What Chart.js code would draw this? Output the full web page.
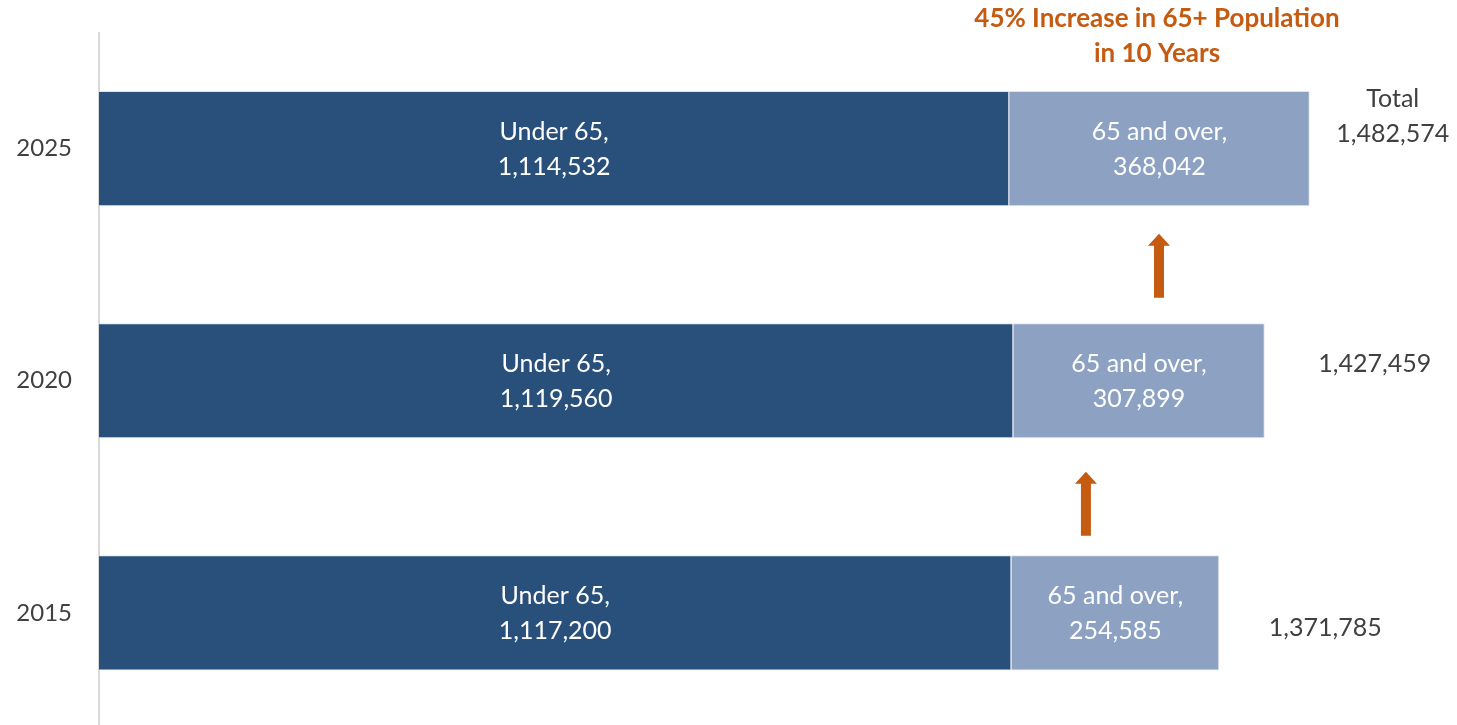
<!DOCTYPE html>
<html>
<head>
<meta charset="utf-8">
<script src="https://cdn.jsdelivr.net/npm/chart.js@4"></script>
<style>
  html, body { margin: 0; padding: 0; background: #fff; overflow: hidden; }
  #wrap { width: 1457px; height: 725px; overflow: hidden; }
</style>
</head>
<body>
<div id="wrap"><canvas id="popChart" width="1457" height="729"></canvas></div>
<script>
// Population by age group, top to bottom
const years = ['2025', '2020', '2015'];
const under65 = [1114532, 1119560, 1117200];
const over65 = [368042, 307899, 254585];
const totals = [1482574, 1427459, 1371785];

const FONT = 'Lato, "Open Sans", sans-serif';
const DARK = '#28507a';
const LIGHT = '#8da1c2';
const ORANGE = '#c55a11';
const GREY_TEXT = '#404040';

// labels inside bars, totals, title and arrows
const annotate = {
  id: 'annotate',
  afterDatasetsDraw(chart) {
    const ctx = chart.ctx;
    const xs = chart.scales.x;
    const ys = chart.scales.y;
    ctx.save();
    ctx.textAlign = 'center';
    ctx.textBaseline = 'middle';

    // segment labels
    const names = ['Under 65,', '65 and over,'];
    chart.data.datasets.forEach((ds, di) => {
      chart.getDatasetMeta(di).data.forEach((bar, i) => {
        const cx = (bar.base + bar.x) / 2;
        ctx.fillStyle = '#fff';
        ctx.font = '25px ' + FONT;
        ctx.fillText(names[di], cx, bar.y - 17);
        ctx.fillText(ds.data[i].toLocaleString('en-US'), cx, bar.y + 18);
      });
    });

    // totals to the right of each bar
    const dx = [83, 110, 106];
    const dy = [-15, -17, 15];
    ctx.fillStyle = GREY_TEXT;
    ctx.font = '25px ' + FONT;
    totals.forEach((t, i) => {
      const x = xs.getPixelForValue(t) + dx[i];
      const y = ys.getPixelForValue(i) + dy[i];
      if (i === 0) ctx.fillText('Total', x, y - 35);
      ctx.fillText(t.toLocaleString('en-US'), x, y);
    });

    // title
    ctx.fillStyle = ORANGE;
    ctx.font = 'bold 26px ' + FONT;
    ctx.fillText('45% Increase in 65+ Population', 1157, 19);
    ctx.fillText('in 10 Years', 1157, 54);

    // up arrows between bars
    const arrowAt = [[1298000, 0.5, 1], [1208500, 1.5, 7]];
    arrowAt.forEach(([v, pos, shift]) => {
      const x = xs.getPixelForValue(v);
      const mid = ys.getPixelForValue(pos) + shift;
      const top = mid - 32, bottom = mid + 32;
      ctx.fillStyle = ORANGE;
      ctx.beginPath();
      ctx.moveTo(x, top);
      ctx.lineTo(x + 11, top + 12);
      ctx.lineTo(x + 5, top + 12);
      ctx.lineTo(x + 5, bottom);
      ctx.lineTo(x - 5, bottom);
      ctx.lineTo(x - 5, top + 12);
      ctx.lineTo(x - 11, top + 12);
      ctx.closePath();
      ctx.fill();
    });
    ctx.restore();
  }
};

new Chart(document.getElementById('popChart'), {
  type: 'bar',
  data: {
    labels: years,
    datasets: [
      { label: 'Under 65', data: under65, backgroundColor: DARK, borderColor: '#dfe5ee', borderWidth: 1 },
      { label: '65 and over', data: over65, backgroundColor: LIGHT, borderColor: '#dfe5ee', borderWidth: 1 }
    ]
  },
  options: {
    indexAxis: 'y',
    responsive: false,
    animation: false,
    layout: { padding: { top: 32.5, right: 53, bottom: 0, left: 0 } },
    datasets: { bar: { barPercentage: 1, categoryPercentage: 0.496 } },
    plugins: {
      legend: { display: false },
      tooltip: { enabled: false }
    },
    scales: {
      x: {
        stacked: true,
        min: 0,
        max: 1598000,
        display: false
      },
      y: {
        stacked: true,
        grid: { display: false },
        border: { color: '#d9d9d9', width: 2 },
        ticks: { color: GREY_TEXT, font: { family: FONT, size: 24 }, padding: 19 },
        afterFit(scale) {
          scale.width = 99;
          scale.paddingTop = 0;
          scale.paddingBottom = 0;
        }
      }
    }
  },
  plugins: [annotate]
});
</script>
</body>
</html>
